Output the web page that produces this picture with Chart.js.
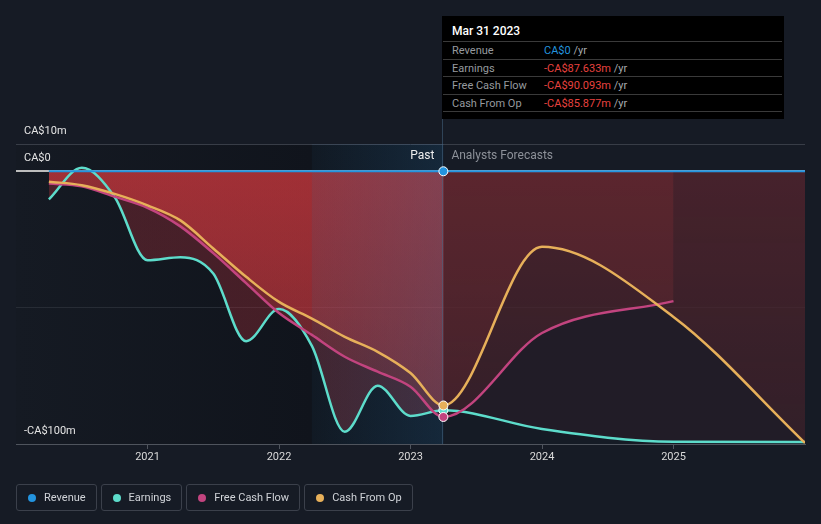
<!DOCTYPE html>
<html>
<head>
<meta charset="utf-8">
<script src="https://cdn.jsdelivr.net/npm/chart.js@4.4.0/dist/chart.umd.min.js"></script>
<style>
  html, body { margin: 0; padding: 0; background: #161b25; }
  body { width: 821px; height: 524px; position: relative; overflow: hidden; font-family: Roboto, "Open Sans", sans-serif; }
  #chart { position: absolute; left: 0; top: 0; }
  #tip { position: absolute; left: 442px; top: 16px; width: 342px; height: 103px; background: #000; }
  #tip .title { height: 25px; line-height: 31px; padding-left: 10px; color: #fff; font-size: 12px; font-weight: 500; }
  #tip .row { height: 16.5px; line-height: 17.5px; margin: 0 2px 0 1px; border-top: 1px solid #3a3a3a; font-size: 11px; display: flex; }
  #tip .row:last-child { border-bottom: 1px solid #3a3a3a; }
  #tip .lab { width: 92px; padding-left: 9px; color: #969a9f; }
  #tip .unit { color: #a5a9ae; }
  #legend { position: absolute; left: 16px; top: 484px; display: flex; gap: 4px; }
  #legend .item { height: 25px; border: 1px solid #3b404b; border-radius: 3px; padding: 0 10px 0 11px; display: flex; align-items: center; color: #d0d3d8; font-size: 11px; }
  #legend .dot { width: 8px; height: 8px; border-radius: 50%; margin-right: 8px; }
</style>
</head>
<body>
<canvas id="chart" width="821" height="524"></canvas>
<div id="tip"></div>
<div id="legend"></div>
<script>
// reporting dates as fractional years (quarter ends), then analyst forecast year ends
const pastDates = [2020.25, 2020.5, 2020.75, 2021.0, 2021.25, 2021.5, 2021.75, 2022.0, 2022.25, 2022.5, 2022.75, 2023.0, 2023.25];
const forecastDates = [2024.0, 2025.0, 2026.0];

// values in CA$ millions
const revenuePast = [0, 0, 0, 0, 0, 0, 0, 0, 0, 0, 0, 0, 0];
const revenueForecast = [0, 0, 0];
const earningsPast = [-10.3, 1.3, -9.4, -32.6, -31.5, -37.5, -62.3, -50.5, -64, -95.5, -78.6, -89.7, -87.633];
const earningsForecast = [-94.5, -99.2, -99.3];
const fcfPast = [-4.5, -5.5, -9.3, -13.4, -20.2, -30, -41, -52, -60, -68, -73.5, -79, -90.093];
const fcfForecast = [-59.3, -47.6];
const cfoPast = [-3.8, -5.1, -8.3, -12.5, -18, -28.3, -38.7, -47.9, -54, -60.7, -66.2, -74, -85.877];
const cfoForecast = [-27.7, -53.4, -99.6];

const xTicks = [2021, 2022, 2023, 2024, 2025];
const yTicks = [-100, -50, 0, 10];
const yTickLabels = ['-CA$100m', '', 'CA$0', 'CA$10m'];

const seriesNames = ['Revenue', 'Earnings', 'Free Cash Flow', 'Cash From Op'];
const seriesColors = ['#2394df', '#5ddccb', '#c2447f', '#e7b05a'];
const tipDate = 'Mar 31 2023';
const nowDate = 2023.25;
const bandStart = 2022.25;

function points(past, future) {
  const xs = pastDates.concat(forecastDates);
  return past.concat(future).map((v, i) => ({ x: xs[i], y: v }));
}

// vertical fade from the zero line down
function vGrad(top, bottom) {
  return ctx => {
    const { chart } = ctx;
    const { chartArea, scales } = chart;
    if (!chartArea || !scales.y) return top;
    const g = chart.ctx.createLinearGradient(0, scales.y.getPixelForValue(0), 0, chartArea.bottom);
    g.addColorStop(0, top);
    g.addColorStop(1, bottom);
    return g;
  };
}

// one colour for the past, another for the forecast part
function hSplit(pastCol, futureCol) {
  return ctx => {
    const { chart } = ctx;
    const { chartArea, scales } = chart;
    if (!chartArea || !scales.x) return pastCol;
    const f = (scales.x.getPixelForValue(nowDate) - chartArea.left) / chartArea.width;
    const g = chart.ctx.createLinearGradient(chartArea.left, 0, chartArea.right, 0);
    g.addColorStop(0, pastCol);
    g.addColorStop(f, pastCol);
    g.addColorStop(Math.min(1, f + 0.001), futureCol);
    g.addColorStop(1, futureCol);
    return g;
  };
}

const backdrop = {
  id: 'backdrop',
  beforeDraw(chart) {
    const { ctx, chartArea: a, scales: { x } } = chart;
    const xb = x.getPixelForValue(bandStart), xn = x.getPixelForValue(nowDate);
    ctx.save();
    let g = ctx.createLinearGradient(a.left, 0, xb, 0);
    g.addColorStop(0, '#151a23');
    g.addColorStop(1, '#10141c');
    ctx.fillStyle = g;
    ctx.fillRect(a.left, a.top, xb - a.left, a.bottom - a.top);
    g = ctx.createLinearGradient(xb, 0, xn, 0);
    g.addColorStop(0, '#080b10');
    g.addColorStop(1, '#000a13');
    ctx.fillStyle = g;
    ctx.fillRect(xb, a.top, xn - xb, a.bottom - a.top);
    ctx.restore();
  },
  // runs after the fills (filler draws first), before the lines
  beforeDatasetsDraw(chart) {
    const { ctx, chartArea: a, scales: { x, y } } = chart;
    const xb = x.getPixelForValue(bandStart), xn = x.getPixelForValue(nowDate);
    const y0 = y.getPixelForValue(0);
    ctx.save();
    // forecasts are drawn dimmer
    ctx.fillStyle = 'rgba(22,27,38,0.47)';
    ctx.fillRect(xn, y0 + 1, a.right - xn, a.bottom - y0 - 1);
    // light wash over the last twelve months
    const g = ctx.createLinearGradient(xb, 0, xn, 0);
    g.addColorStop(0, 'rgba(70,110,150,0.15)');
    g.addColorStop(1, 'rgba(70,110,150,0.3)');
    ctx.fillStyle = g;
    ctx.fillRect(xb, a.top, xn - xb, a.bottom - a.top);
    // crosshair at the latest reported date
    const lx = Math.round(xn) - 0.5;
    ctx.strokeStyle = 'rgba(70,100,130,0.55)';
    ctx.lineWidth = 1;
    ctx.beginPath();
    ctx.moveTo(lx, 16);
    ctx.lineTo(lx, a.bottom);
    ctx.stroke();
    ctx.restore();
  },
  afterDatasetsDraw(chart) {
    const { ctx, scales: { x } } = chart;
    const xn = x.getPixelForValue(nowDate);
    const nowIdx = pastDates.length - 1;
    ctx.save();
    [1, 2, 3, 0].forEach(di => {
      const el = chart.getDatasetMeta(di).data[nowIdx];
      ctx.beginPath();
      ctx.arc(el.x, el.y, 4.5, 0, Math.PI * 2);
      ctx.fillStyle = seriesColors[di];
      ctx.fill();
      ctx.lineWidth = 1;
      ctx.strokeStyle = '#ffffff';
      ctx.stroke();
    });
    ctx.font = '12px Roboto';
    ctx.textBaseline = 'middle';
    ctx.textAlign = 'right';
    ctx.fillStyle = '#eeeeee';
    ctx.fillText('Past', xn - 9, 156);
    ctx.textAlign = 'left';
    ctx.fillStyle = '#8d9199';
    ctx.fillText('Analysts Forecasts', xn + 8, 156);
    ctx.restore();
  }
};

Chart.defaults.font.family = 'Roboto';

const lineBase = {
  borderWidth: 2.5,
  pointRadius: 0,
  pointHoverRadius: 0,
  cubicInterpolationMode: 'monotone'
};

new Chart(document.getElementById('chart').getContext('2d'), {
  type: 'line',
  data: {
    datasets: [
      Object.assign({}, lineBase, {
        label: seriesNames[0],
        data: points(revenuePast, revenueForecast),
        borderColor: seriesColors[0],
        borderWidth: 2,
        fill: false,
        order: 1
      }),
      Object.assign({}, lineBase, {
        label: seriesNames[1],
        data: points(earningsPast, earningsForecast),
        borderColor: seriesColors[1],
        fill: 'origin',
        backgroundColor: hSplit('rgba(150,45,55,0.4)', 'rgba(150,45,55,0.18)'),
        order: 4
      }),
      Object.assign({}, lineBase, {
        label: seriesNames[2],
        data: points(fcfPast, fcfForecast),
        borderColor: seriesColors[2],
        fill: 'origin',
        backgroundColor: vGrad('rgba(200,55,60,0.45)', 'rgba(200,55,60,0.2)'),
        order: 3
      }),
      Object.assign({}, lineBase, {
        label: seriesNames[3],
        data: points(cfoPast, cfoForecast),
        borderColor: seriesColors[3],
        fill: 'origin',
        backgroundColor: vGrad('rgba(200,55,60,0.45)', 'rgba(200,55,60,0.2)'),
        order: 2
      })
    ]
  },
  options: {
    responsive: false,
    animation: false,
    events: [],
    layout: { padding: { left: 16, right: 16, top: 144, bottom: 54 } },
    plugins: {
      legend: { display: false },
      tooltip: { enabled: false },
      filler: { drawTime: 'beforeDatasetsDraw' }
    },
    scales: {
      x: {
        type: 'linear',
        min: 2020,
        max: 2026,
        afterBuildTicks: s => { s.ticks = xTicks.map(v => ({ value: v })); },
        afterFit: s => { s.height = 26; },
        grid: { drawOnChartArea: false, drawTicks: true, tickLength: 5, color: '#4f545d' },
        border: { color: '#4f545d' },
        ticks: { padding: 2, color: '#dadada', font: { size: 11 }, callback: v => String(v) }
      },
      y: {
        min: -100,
        max: 10,
        afterBuildTicks: s => { s.ticks = yTicks.map(v => ({ value: v })); },
        afterFit: s => { s.width = 0; },
        border: { display: false },
        grid: {
          drawTicks: false,
          color: ctx => {
            const v = ctx.tick.value;
            if (v === 0) return '#bdbdbd';
            if (v === 10) return '#383d47';
            if (v === -50) return '#272c35';
            return 'rgba(0,0,0,0)';
          },
          lineWidth: ctx => ctx.tick.value === 0 ? 2 : 1
        },
        ticks: {
          mirror: true,
          padding: 8,
          labelOffset: -13,
          color: '#e4e4e4',
          font: { size: 11 },
          callback: v => yTickLabels[yTicks.indexOf(v)]
        }
      }
    }
  },
  plugins: [backdrop]
});

// hover box for the latest date
const last = arr => arr[arr.length - 1];
const fmt = v => v === 0 ? 'CA$0' : (v < 0 ? '-' : '') + 'CA$' + Math.abs(v).toFixed(3) + 'm';
const tipValues = [last(revenuePast), last(earningsPast), last(fcfPast), last(cfoPast)];
let tipHtml = '<div class="title">' + tipDate + '</div>';
seriesNames.forEach((n, i) => {
  const v = tipValues[i];
  const col = v === 0 ? '#2394df' : '#e8423f';
  tipHtml += '<div class="row"><span class="lab">' + n + '</span><span style="color:' + col + '">' + fmt(v) +
    '</span><span class="unit">&nbsp;/yr</span></div>';
});
document.getElementById('tip').innerHTML = tipHtml;

const legendHtml = seriesNames.map((n, i) =>
  '<div class="item"><span class="dot" style="background:' + seriesColors[i] + '"></span>' + n + '</div>').join('');
document.getElementById('legend').innerHTML = legendHtml;
</script>
</body>
</html>
